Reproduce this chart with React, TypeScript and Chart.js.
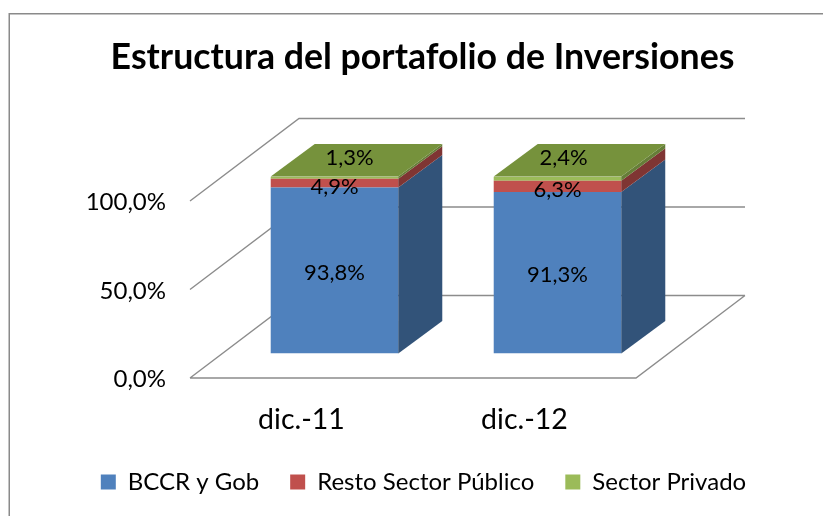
import React, { useEffect, useRef } from "react";
import { Chart, registerables } from "chart.js";

Chart.register(...registerables);

const categories = ["dic.-11", "dic.-12"];
const bccrValues = [93.8, 91.3];
const restoValues = [4.9, 6.3];
const privadoValues = [1.3, 2.4];
const yTicks = [0, 50, 100];
const chartTitle = "Estructura del portafolio de Inversiones";

const FONT = "Lato, Carlito, Calibri, sans-serif";
const GRID = "#8c8c8c";
const fmt = (v: number) => v.toFixed(1).replace(".", ",") + "%";

const frontColors = ["#4F81BD", "#C0504D", "#9BBB59"];
const sideColors = ["#325379", "#7F3533", "#667E38"];
const topColor = "#76923C";

// wall depth and bar depth of the 3D projection
const WALL = { x: 109, y: -82.5 };
const DEPTH = { x: 44, y: -32.5 };
const SHIFT = { x: 33, y: -24.5 };

const threeD = {
  id: "threeD",
  beforeDraw(chart: any) {
    const { ctx, width, height } = chart;
    ctx.save();
    ctx.fillStyle = "#fff";
    ctx.fillRect(0, 0, width, height);
    ctx.strokeStyle = "#8a8a8a";
    ctx.lineWidth = 1.5;
    ctx.beginPath();
    ctx.moveTo(9.25, height);
    ctx.lineTo(9.25, 13.75);
    ctx.lineTo(width, 13.75);
    ctx.stroke();
    ctx.restore();
  },
  afterLayout(chart: any) {
    chart.legend.left += 1;
    chart.legend.right += 1;
  },
  beforeDatasetsDraw(chart: any) {
    const { ctx, chartArea, scales } = chart;
    const { left, right, bottom } = chartArea;
    ctx.save();
    ctx.strokeStyle = GRID;
    ctx.lineWidth = 1.4;
    ctx.beginPath();
    yTicks.forEach((t) => {
      const y = scales.y.getPixelForValue(t);
      ctx.moveTo(left, y);
      ctx.lineTo(left + WALL.x, y + WALL.y);
      ctx.lineTo(right + WALL.x, y + WALL.y);
    });
    ctx.moveTo(left, bottom);
    ctx.lineTo(right, bottom);
    ctx.lineTo(right + WALL.x, bottom + WALL.y);
    ctx.stroke();
    ctx.restore();
    ctx.save();
    ctx.translate(SHIFT.x, SHIFT.y);
  },
  afterDatasetsDraw(chart: any) {
    const { ctx } = chart;
    const n = chart.data.datasets.length;
    chart.data.datasets.forEach((_: any, d: number) => {
      chart.getDatasetMeta(d).data.forEach((bar: any) => {
        const r = bar.x + bar.width / 2;
        const l = bar.x - bar.width / 2;
        ctx.fillStyle = sideColors[d];
        ctx.beginPath();
        ctx.moveTo(r, bar.y);
        ctx.lineTo(r + DEPTH.x, bar.y + DEPTH.y);
        ctx.lineTo(r + DEPTH.x, bar.base + DEPTH.y);
        ctx.lineTo(r, bar.base);
        ctx.closePath();
        ctx.fill();
        if (d === n - 1) {
          ctx.fillStyle = topColor;
          ctx.beginPath();
          ctx.moveTo(l, bar.y);
          ctx.lineTo(l + DEPTH.x, bar.y + DEPTH.y);
          ctx.lineTo(r + DEPTH.x, bar.y + DEPTH.y);
          ctx.lineTo(r, bar.y);
          ctx.closePath();
          ctx.fill();
        }
      });
    });
    ctx.restore();

    // value labels
    ctx.save();
    ctx.font = `22px ${FONT}`;
    ctx.fillStyle = "#000";
    ctx.textAlign = "center";
    ctx.textBaseline = "middle";
    chart.data.datasets.forEach((ds: any, d: number) => {
      chart.getDatasetMeta(d).data.forEach((bar: any, i: number) => {
        const cx = bar.x + SHIFT.x;
        const cy = (bar.y + bar.base) / 2 + SHIFT.y;
        let x = cx;
        let y = cy + 2;
        if (d === 1) y = cy + 3.5;
        if (d === 2) {
          x = cx + (i === 0 ? 15 : 6);
          y = bar.y + SHIFT.y - 19;
        }
        ctx.fillText(fmt(ds.data[i]), x, y);
      });
    });
    ctx.restore();
  },
};

export default function App() {
  const ref = useRef<HTMLCanvasElement | null>(null);
  useEffect(() => {
    const chart = new Chart(ref.current as HTMLCanvasElement, {
      type: "bar",
      data: {
        labels: categories,
        datasets: [
          { label: "BCCR y Gob", data: bccrValues, backgroundColor: frontColors[0], yAxisID: "y" },
          { label: "Resto Sector Público", data: restoValues, backgroundColor: frontColors[1], yAxisID: "y" },
          { label: "Sector Privado", data: privadoValues, backgroundColor: frontColors[2], yAxisID: "y" },
        ],
      },
      options: {
        responsive: false,
        animation: false,
        layout: { padding: { left: 22, right: 0, top: 0, bottom: 12 } },
        datasets: { bar: { barPercentage: 0.572, categoryPercentage: 1, borderWidth: 0 } },
        plugins: {
          tooltip: { enabled: false },
          title: {
            display: true,
            text: chartTitle,
            color: "#000",
            font: { family: FONT, size: 35.7, weight: "bold" },
            padding: { top: 36.5, bottom: 121.66 },
          },
          legend: {
            position: "bottom",
            labels: {
              color: "#000",
              font: { family: FONT, size: 24 },
              boxWidth: 15,
              boxHeight: 15,
              padding: 31,
            },
          },
        },
        scales: {
          x: {
            stacked: true,
            grid: { display: false, drawTicks: false },
            border: { display: false },
            ticks: { color: "#000", font: { family: FONT, size: 28.5 }, padding: 24.5, maxRotation: 0 },
            afterFit: (s: any) => { s.height = 61; },
          },
          y: {
            stacked: true,
            min: 0,
            max: 100,
            grid: { display: false, drawTicks: false },
            border: { display: false },
            ticks: {
              stepSize: 50,
              color: "#000",
              font: { family: FONT, size: 24 },
              padding: 24,
              labelOffset: 1.5,
              callback: (v: any) => fmt(Number(v)),
            },
            afterFit: (s: any) => { s.width = 168; },
          },
          spare: {
            position: "right",
            grid: { display: false, drawTicks: false },
            border: { display: false },
            ticks: { display: false },
            afterFit: (s: any) => { s.width = 187; },
          },
        },
      },
      plugins: [threeD],
    } as any);
    return () => chart.destroy();
  }, []);
  return (
    <div style={{ position: "absolute", left: 0, top: 0 }}>
      <canvas ref={ref} width={823} height={516} style={{ display: "block" }} />
    </div>
  );
}
